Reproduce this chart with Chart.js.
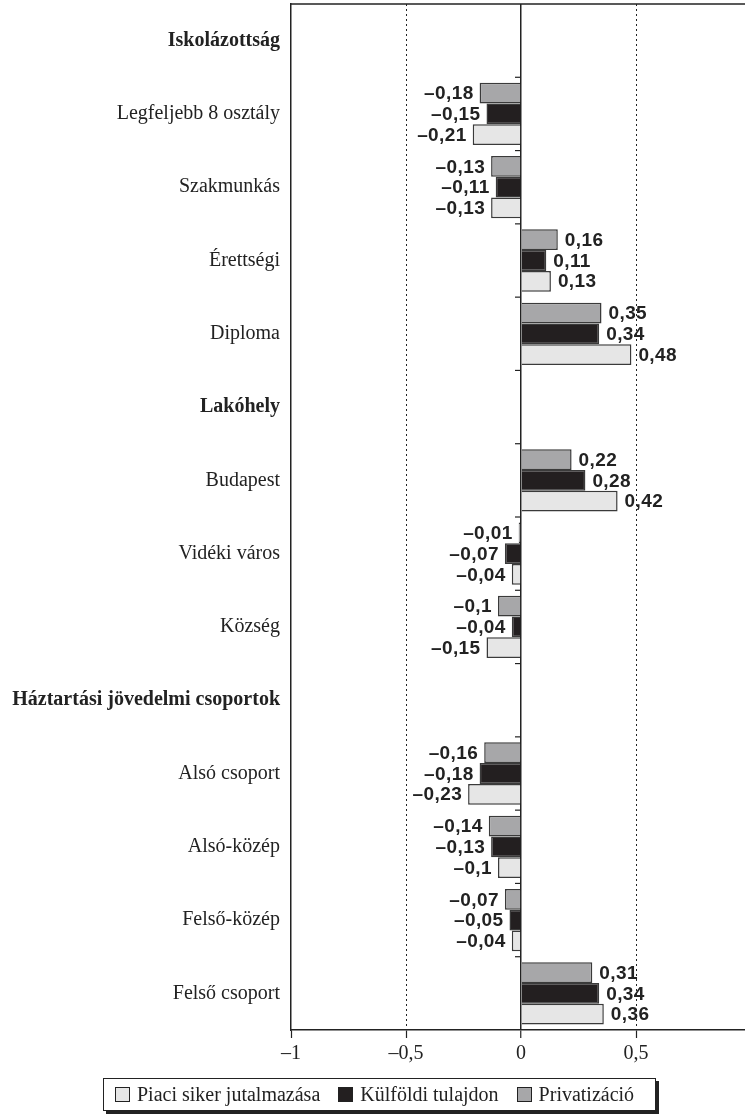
<!DOCTYPE html>
<html>
<head>
<meta charset="utf-8">
<script src="https://cdn.jsdelivr.net/npm/chart.js@4"></script>
<style>
html, body { margin: 0; padding: 0; background: #fff; overflow: hidden; width: 745px; height: 1116px; }
#wrap { position: relative; width: 760px; height: 1116px; }
#legend {
  position: absolute; left: 103px; top: 1078px; width: 553px; height: 33px;
  border: 1.5px solid #222; box-shadow: 3px 3px 0 #222; background: #fff;
  font-family: "Liberation Serif", serif; font-size: 20px; color: #222; white-space: nowrap;
  display: flex; align-items: center; box-sizing: border-box; padding-left: 11px;
}
#legend .item { display: flex; align-items: center; flex-shrink: 0; margin-right: 18px; }
#legend .box { width: 13px; height: 13px; border: 1px solid #222; margin-right: 7px; flex-shrink: 0; }
</style>
</head>
<body>
<div id="wrap">
  <canvas id="myChart" width="760" height="1116"></canvas>
  <div id="legend"></div>
</div>
<script>
const categories = ["Iskolázottság", "Legfeljebb 8 osztály", "Szakmunkás", "Érettségi", "Diploma",
  "Lakóhely", "Budapest", "Vidéki város", "Község",
  "Háztartási jövedelmi csoportok", "Alsó csoport", "Alsó-közép", "Felső-közép", "Felső csoport"];
const sectionHeads = ["Iskolázottság", "Lakóhely", "Háztartási jövedelmi csoportok"];

// null = section header row, no bars
const privatizacio = [null, -0.18, -0.13, 0.16, 0.35, null, 0.22, -0.01, -0.1, null, -0.16, -0.14, -0.07, 0.31];
const kulfoldi     = [null, -0.15, -0.11, 0.11, 0.34, null, 0.28, -0.07, -0.04, null, -0.18, -0.13, -0.05, 0.34];
const piaci        = [null, -0.21, -0.13, 0.13, 0.48, null, 0.42, -0.04, -0.15, null, -0.23, -0.1, -0.04, 0.36];

const xTicks = [-1, -0.5, 0, 0.5, 1];
const legendOrder = ["Piaci siker jutalmazása", "Külföldi tulajdon", "Privatizáció"];
const barColors = { "Privatizáció": "#a7a7a9", "Külföldi tulajdon": "#231f20", "Piaci siker jutalmazása": "#e6e6e6" };

function fmt(v) {
  let s = String(Math.abs(v)).replace(".", ",");
  return (v < 0 ? "\u2013" : "") + s;
}

// top border, small ticks on zero line, value labels
const extras = {
  id: "extras",
  afterDatasetsDraw(chart) {
    const { ctx, chartArea, scales: { x, y } } = chart;
    ctx.save();
    ctx.strokeStyle = "#222";
    ctx.lineWidth = 1.5;
    ctx.beginPath();
    ctx.moveTo(chartArea.left, chartArea.top);
    ctx.lineTo(chartArea.right, chartArea.top);
    ctx.stroke();

    const x0 = x.getPixelForValue(0);
    ctx.lineWidth = 1.2;
    for (let i = 0; i < categories.length - 1; i++) {
      const yy = (y.getPixelForValue(i) + y.getPixelForValue(i + 1)) / 2;
      ctx.beginPath();
      ctx.moveTo(x0 - 6, yy);
      ctx.lineTo(x0, yy);
      ctx.stroke();
    }

    ctx.font = 'bold 19px "Liberation Sans"';
    ctx.letterSpacing = "0.4px";
    ctx.fillStyle = "#222";
    ctx.textBaseline = "middle";
    chart.data.datasets.forEach((ds, di) => {
      chart.getDatasetMeta(di).data.forEach((bar, i) => {
        const v = ds.data[i];
        if (v == null) return;
        ctx.textAlign = v < 0 ? "right" : "left";
        ctx.fillText(fmt(v), bar.x + (v < 0 ? -6 : 7), bar.y + 1);
      });
    });
    ctx.restore();
  }
};

const mkSet = (label, data) => ({
  label: label,
  data: data,
  backgroundColor: barColors[label],
  borderColor: "#3a3a3a",
  borderWidth: 1.5,
  borderSkipped: "start"
});

const ctx = document.getElementById("myChart").getContext("2d");
const myChart = new Chart(ctx, {
  type: "bar",
  data: {
    labels: categories,
    datasets: [
      mkSet("Privatizáció", privatizacio),
      mkSet("Külföldi tulajdon", kulfoldi),
      mkSet("Piaci siker jutalmazása", piaci)
    ]
  },
  options: {
    indexAxis: "y",
    responsive: false,
    animation: false,
    layout: { padding: { top: 4, right: 8, bottom: 46, left: 0 } },
    datasets: { bar: { barPercentage: 1, categoryPercentage: 0.85 } },
    plugins: { legend: { display: false }, tooltip: { enabled: false } },
    scales: {
      x: {
        min: -1, max: 1,
        afterBuildTicks: s => { s.ticks = xTicks.map(v => ({ value: v })); },
        ticks: {
          color: "#222", padding: 4,
          font: { family: "Liberation Serif", size: 20 },
          callback: v => fmt(v)
        },
        grid: {
          color: c => (c.tick && Math.abs(c.tick.value) === 1) ? "rgba(0,0,0,0)" : "#222",
          lineWidth: c => (c.tick && c.tick.value === 0) ? 1.5 : 1,
          tickColor: "#222", tickLength: 8, tickWidth: 1.2
        },
        border: {
          color: "#222", width: 1.5,
          dash: c => (c.tick && c.tick.value !== 0) ? [2, 3] : []
        }
      },
      y: {
        afterFit: s => { s.width = 291; s.paddingTop = 0; s.paddingBottom = 0; },
        ticks: {
          color: "#222", padding: 11,
          font: c => ({
            family: "Liberation Serif", size: 20,
            weight: sectionHeads.includes(categories[c.index]) ? "bold" : "normal"
          })
        },
        grid: { drawOnChartArea: false, drawTicks: false },
        border: { color: "#222", width: 1.5 }
      }
    }
  },
  plugins: [extras]
});

const legend = document.getElementById("legend");
legendOrder.forEach(name => {
  const item = document.createElement("span");
  item.className = "item";
  const box = document.createElement("span");
  box.className = "box";
  box.style.background = barColors[name];
  item.appendChild(box);
  item.appendChild(document.createTextNode(name));
  legend.appendChild(item);
});
</script>
</body>
</html>
